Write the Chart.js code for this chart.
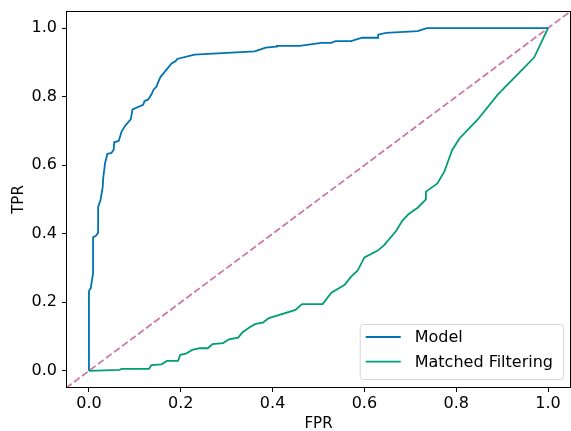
<!DOCTYPE html>
<html>
<head>
<meta charset="utf-8">
<title>ROC</title>
<script src="https://cdn.jsdelivr.net/npm/chart.js@4"></script>
<style>
  html, body { margin: 0; padding: 0; background: #fff; }
  #wrap { width: 571px; height: 431px; }
</style>
</head>
<body>
<div id="wrap"><canvas id="roc"></canvas></div>
<script>
// ROC curve points (false positive rate / true positive rate)
const modelFpr = [0, 0, 0.004, 0.006, 0.009, 0.009, 0.015, 0.02, 0.02, 0.025, 0.03, 0.031, 0.035, 0.04, 0.049,
  0.054, 0.055, 0.065, 0.071, 0.08, 0.091, 0.095, 0.118, 0.121, 0.129, 0.136, 0.141, 0.147, 0.151, 0.156,
  0.169, 0.18, 0.189, 0.192, 0.23, 0.361, 0.385, 0.408, 0.409, 0.459, 0.506, 0.528, 0.537, 0.571, 0.595,
  0.63, 0.63, 0.647, 0.716, 0.736, 1.0];
const modelTpr = [0, 0.233, 0.241, 0.26, 0.285, 0.39, 0.394, 0.403, 0.479, 0.497, 0.537, 0.562, 0.605, 0.633, 0.636,
  0.646, 0.667, 0.671, 0.698, 0.717, 0.734, 0.763, 0.776, 0.787, 0.792, 0.806, 0.821, 0.829, 0.843, 0.858,
  0.879, 0.897, 0.904, 0.91, 0.923, 0.932, 0.943, 0.946, 0.948, 0.948, 0.957, 0.957, 0.962, 0.962, 0.972,
  0.972, 0.981, 0.986, 0.991, 1.0, 1.0];

const mfFpr = [0, 0.067, 0.071, 0.131, 0.136, 0.158, 0.17, 0.194, 0.199, 0.211, 0.225, 0.241, 0.259, 0.269, 0.292,
  0.305, 0.325, 0.334, 0.35, 0.363, 0.379, 0.392, 0.45, 0.464, 0.509, 0.528, 0.557, 0.571, 0.585, 0.6,
  0.629, 0.643, 0.669, 0.682, 0.696, 0.716, 0.734, 0.734, 0.759, 0.774, 0.791, 0.807, 0.825, 0.846, 0.89,
  0.97, 1.0];
const mfTpr = [0, 0.003, 0.006, 0.006, 0.017, 0.019, 0.029, 0.029, 0.047, 0.05, 0.061, 0.066, 0.066, 0.078, 0.081,
  0.092, 0.097, 0.112, 0.127, 0.137, 0.141, 0.154, 0.178, 0.195, 0.195, 0.228, 0.251, 0.275, 0.292, 0.331,
  0.351, 0.367, 0.408, 0.437, 0.457, 0.476, 0.5, 0.523, 0.547, 0.581, 0.644, 0.678, 0.703, 0.732, 0.805,
  0.915, 1.0];

// chance diagonal, runs corner to corner of the axes
const chanceLine = [-0.05, 1.05];

const xTicks = [0, 0.2, 0.4, 0.6, 0.8, 1.0];
const yTicks = [0, 0.2, 0.4, 0.6, 0.8, 1.0];
const axisMin = -0.05;
const axisMax = 1.05;

const seriesNames = ['Model', 'Matched Filtering'];
const seriesColors = ['#0173b2', '#029e73'];

function toPoints(xs, ys) {
  return xs.map((x, i) => ({ x: x, y: ys[i] }));
}

const FONT = 'DejaVu Sans';

// box around the plot area (all four spines)
const framePlugin = {
  id: 'frame',
  afterDatasetsDraw(chart) {
    const { ctx, chartArea: a } = chart;
    ctx.save();
    ctx.strokeStyle = '#000';
    ctx.lineWidth = 1;
    ctx.strokeRect(a.left + 0.5, a.top + 0.5, a.right - a.left - 1, a.bottom - a.top - 1);
    ctx.restore();
  }
};

// legend drawn inside the axes, lower right corner
const innerLegend = {
  id: 'innerLegend',
  afterDraw(chart) {
    const { ctx, chartArea: a } = chart;
    ctx.save();
    ctx.font = '16px "' + FONT + '"';
    const textW = Math.max(...seriesNames.map(n => ctx.measureText(n).width));
    const lineLen = 35;
    const w = 6 + lineLen + 14 + textW + 10;
    const h = 55;
    const right = a.right - 8;
    const bottom = a.bottom - 9;
    const left = right - w;
    const top = bottom - h;

    ctx.beginPath();
    ctx.roundRect(left + 0.5, top + 0.5, w, h, 3);
    ctx.fillStyle = 'rgba(255,255,255,0.8)';
    ctx.fill();
    ctx.strokeStyle = '#d6d6d6';
    ctx.lineWidth = 1;
    ctx.stroke();

    seriesNames.forEach((name, i) => {
      const cy = top + 13 + i * 24.6;
      ctx.beginPath();
      ctx.moveTo(left + 6, cy);
      ctx.lineTo(left + 6 + lineLen, cy);
      ctx.strokeStyle = seriesColors[i];
      ctx.lineWidth = 1.8;
      ctx.stroke();
      ctx.fillStyle = '#000';
      ctx.textBaseline = 'middle';
      ctx.fillText(name, left + 6 + lineLen + 14, cy + 1);
    });
    ctx.restore();
  }
};

const ctx = document.getElementById('roc').getContext('2d');
new Chart(ctx, {
  type: 'line',
  data: {
    datasets: [
      {
        label: seriesNames[0],
        data: toPoints(modelFpr, modelTpr),
        borderColor: seriesColors[0],
        borderWidth: 1.8,
        pointRadius: 0,
        tension: 0
      },
      {
        label: seriesNames[1],
        data: toPoints(mfFpr, mfTpr),
        borderColor: seriesColors[1],
        borderWidth: 1.8,
        pointRadius: 0,
        tension: 0
      },
      {
        label: 'chance',
        data: toPoints(chanceLine, chanceLine),
        borderColor: '#cc79a7',
        borderWidth: 1.8,
        borderDash: [7, 3],
        pointRadius: 0,
        tension: 0
      }
    ]
  },
  options: {
    responsive: true,
    maintainAspectRatio: false,
    animation: false,
    devicePixelRatio: 1,
    layout: { padding: { top: 11, right: -1, left: 0, bottom: 0 } },
    plugins: {
      legend: { display: false },
      tooltip: { enabled: false }
    },
    scales: {
      x: {
        type: 'linear',
        min: axisMin,
        max: axisMax,
        afterBuildTicks: s => { s.ticks = xTicks.map(v => ({ value: v })); },
        afterFit: s => { s.height = 43; s.paddingLeft = 0; s.paddingRight = 0; },
        border: { display: false },
        grid: { drawOnChartArea: false, drawTicks: true, tickLength: 4, tickColor: '#000' },
        ticks: {
          color: '#000',
          padding: 2,
          maxRotation: 0,
          font: { family: FONT, size: 16 },
          callback: v => v.toFixed(1)
        },
        title: {
          display: true,
          text: 'FPR',
          color: '#000',
          font: { family: FONT, size: 15 },
          padding: { top: 0, bottom: -2 }
        }
      },
      y: {
        type: 'linear',
        min: axisMin,
        max: axisMax,
        afterBuildTicks: s => { s.ticks = yTicks.map(v => ({ value: v })); },
        afterFit: s => { s.width = 66; s.paddingTop = 0; s.paddingBottom = 0; },
        border: { display: false },
        grid: { drawOnChartArea: false, drawTicks: true, tickLength: 4, tickColor: '#000' },
        ticks: {
          color: '#000',
          padding: 5,
          font: { family: FONT, size: 16 },
          callback: v => v.toFixed(1)
        },
        title: {
          display: true,
          text: 'TPR',
          color: '#000',
          font: { family: FONT, size: 15 },
          padding: { top: 10, bottom: 0 }
        }
      }
    }
  },
  plugins: [framePlugin, innerLegend]
});
</script>
</body>
</html>
